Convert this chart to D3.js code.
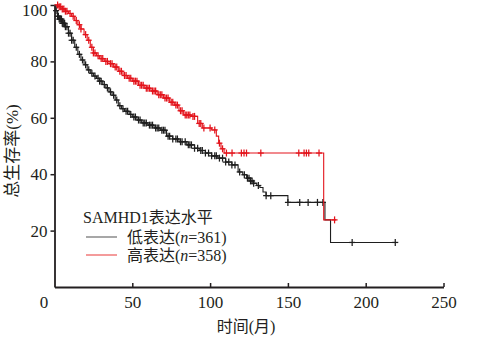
<!DOCTYPE html>
<html><head><meta charset="utf-8">
<script src="https://cdn.jsdelivr.net/npm/d3@7"></script>
<style>body{margin:0;background:#fff}svg{display:block}</style>
</head><body><svg id="c" width="492" height="339"></svg>
<script>
// ---- data ----
const xTicks = [0, 50, 100, 150, 200, 250];
const yTicks = [20, 40, 60, 80, 100];
const seriesNames = ["低表达", "高表达"];
const seriesN = [361, 358];
const legendTitle = "SAMHD1表达水平";
const xTitle = "时间(月)";
const yTitle = "总生存率(%)";

// [time, survival%] step points
const lowSteps = [[0,100],[1,98],[2,96],[3,95],[5,93.5],[7,92.3],[9,90],[11,87.5],[13,85],[15,82.5],[17,80.5],[19,78.8],[21,77],[23,75.8],[25,74.8],[27,74],[29,73],[31,71.8],[33,70.6],[35,69.2],[37,68],[39,66.3],[41,64.3],[43,63.2],[45,62.3],[48,61.2],[50,60.3],[53,59.2],[56,58.2],[60,57.4],[64,56.4],[68,55.6],[72,53.5],[76,52.5],[80,51.5],[85,50.4],[90,49.2],[93,48.4],[97,47.5],[101,46.5],[105,45.7],[110,44.3],[114,43.3],[118,40.8],[121,39.8],[123.5,38.6],[126,37.6],[128,36.8],[130,36],[132,35.3],[134,33.7],[136,32.4],[150,30],[173.8,23.8],[177.4,15.8]];
const lowEnd = 219;
const lowCensor = [1,2,2.5,3,3.5,4,4.5,5,5.5,6,6.5,7,8,9,10,11,12,14,16,18,20,22,24,26,28,29,30,32,34,36,38,40,42,44,46,47,49,51,52,54,55,57,58,59,61,62,63,65,66,67,69,70,71,73,74,76,78,79,81,82,84,86,87,88,90,92,94,95,97,99,101,103,104,106,108,110,112,114,116,119,122,124,125,126,127,128,131,136,139,150,157.6,163,169,172.5,191.3,219];

const highSteps = [[0,100],[3,99.4],[5,98.6],[7,97.8],[9,97],[11,96],[13,94.5],[15,93],[17,91.5],[19,89.5],[21,87.5],[23,85],[25,83],[27,82],[29,81],[32,80],[35,79.2],[38,78],[41,76.5],[44,75],[47,74],[50,73],[54,71.5],[58,70.5],[62,69.5],[66,68.2],[70,67],[74,65.5],[77,64.5],[80,62.5],[83,61],[88,60.5],[92,58],[95,56.4],[101,55.7],[104,53.5],[105.5,51],[107,49],[109,47.5],[173,23.8]];
const highEnd = 181;
const highCensor = [2,3,4,5,6,7,8,10,12,14,16,17,20,22,24,25,26,28,30,31,33,34,36,37,39,40,42,43,45,46,48,49,51,52,53,55,56,57,59,60,61,63,64,65,67,68,69,71,72,73,75,76,78,79,81,82,84,85,86,87,89,90,93,94,96,100,103,106,108,110.5,114.1,120.1,121.8,123.4,132.6,157,160.4,161.9,163.4,170,180];

// ---- drawing ----
const svg = d3.select("#c");
const x = d3.scaleLinear().domain([0, 250]).range([54.5, 443.5]);
const y = d3.scaleLinear().domain([0, 100]).range([287, 5]);
const serif = "'Liberation Serif','Noto Sans CJK SC',serif";
const colors = ["#1e1e1e", "#e3141c"];
const legendColors = ["#8a8a8a", "#f07a7a"];

function survAt(steps, t) {
  let s = steps[0][1];
  for (const p of steps) { if (p[0] <= t) s = p[1]; else break; }
  return s;
}
const line = d3.line().x(d => x(d[0])).y(d => y(d[1])).curve(d3.curveStepAfter);

const curves = [
  {steps: lowSteps, end: lowEnd, censor: lowCensor},
  {steps: highSteps, end: highEnd, censor: highCensor}
];
curves.forEach((c, i) => {
  const pts = c.steps.concat([[c.end, c.steps[c.steps.length - 1][1]]]);
  svg.append("path").attr("d", line(pts)).attr("fill", "none")
    .attr("stroke", colors[i]).attr("stroke-width", 1.1);
  const g = svg.append("g").attr("stroke", colors[i]).attr("stroke-width", 1.25);
  c.censor.forEach(t => {
    const cx = x(t), cy = y(survAt(c.steps, t));
    g.append("line").attr("x1", cx).attr("x2", cx).attr("y1", cy - 3.5).attr("y2", cy + 3.5);
    g.append("line").attr("x1", cx - 3).attr("x2", cx + 3).attr("y1", cy).attr("y2", cy);
  });
});

// axes
const axisColor = "#231f20";
const xAxis = svg.append("g").attr("transform", "translate(0,287)")
  .call(d3.axisBottom(x).tickValues(xTicks).tickSizeInner(-4).tickSizeOuter(0).tickPadding(9).tickFormat(d3.format("d")));
const yAxis = svg.append("g").attr("transform", "translate(54.5,0)")
  .call(d3.axisLeft(y).tickValues(yTicks).tickSizeInner(4).tickSizeOuter(0).tickPadding(3).tickFormat(d3.format("d")));
[xAxis, yAxis].forEach(a => {
  a.select(".domain").attr("stroke", axisColor).attr("stroke-width", 1.8);
  a.selectAll(".tick line").attr("stroke", axisColor).attr("stroke-width", 1.5);
  a.selectAll("text").attr("fill", "#231f20").style("font-family", serif).style("font-size", "17px");
});
xAxis.selectAll(".tick").filter(d => d === 0).select("line").remove();
xAxis.selectAll(".tick").filter(d => d === 0).select("text").attr("x", -11);
yAxis.selectAll(".tick").filter(d => d === 100).select("text").attr("dy", "0.6em");

// titles
svg.append("text").attr("x", 246).attr("y", 332).attr("text-anchor", "middle")
  .style("font-family", serif).style("font-size", "16px").attr("fill", "#231f20").text(xTitle);
svg.append("text").attr("transform", "translate(18,151) rotate(-90)").attr("text-anchor", "middle")
  .style("font-family", serif).style("font-size", "17px").attr("fill", "#231f20").text(yTitle);

// legend
svg.append("text").attr("x", 83).attr("y", 223).style("font-family", serif).style("font-size", "16px")
  .attr("fill", "#231f20").text(legendTitle);
seriesNames.forEach((nm, i) => {
  const ly = 237 + i * 18;
  svg.append("line").attr("x1", 86).attr("x2", 117).attr("y1", ly).attr("y2", ly)
    .attr("stroke", legendColors[i]).attr("stroke-width", 1.5);
  const t = svg.append("text").attr("x", 127).attr("y", ly + 6).style("font-family", serif)
    .style("font-size", "16px").attr("fill", "#231f20");
  t.append("tspan").text(nm + "(");
  t.append("tspan").style("font-style", "italic").text("n");
  t.append("tspan").text("=" + seriesN[i] + ")");
});
</script></body></html>
